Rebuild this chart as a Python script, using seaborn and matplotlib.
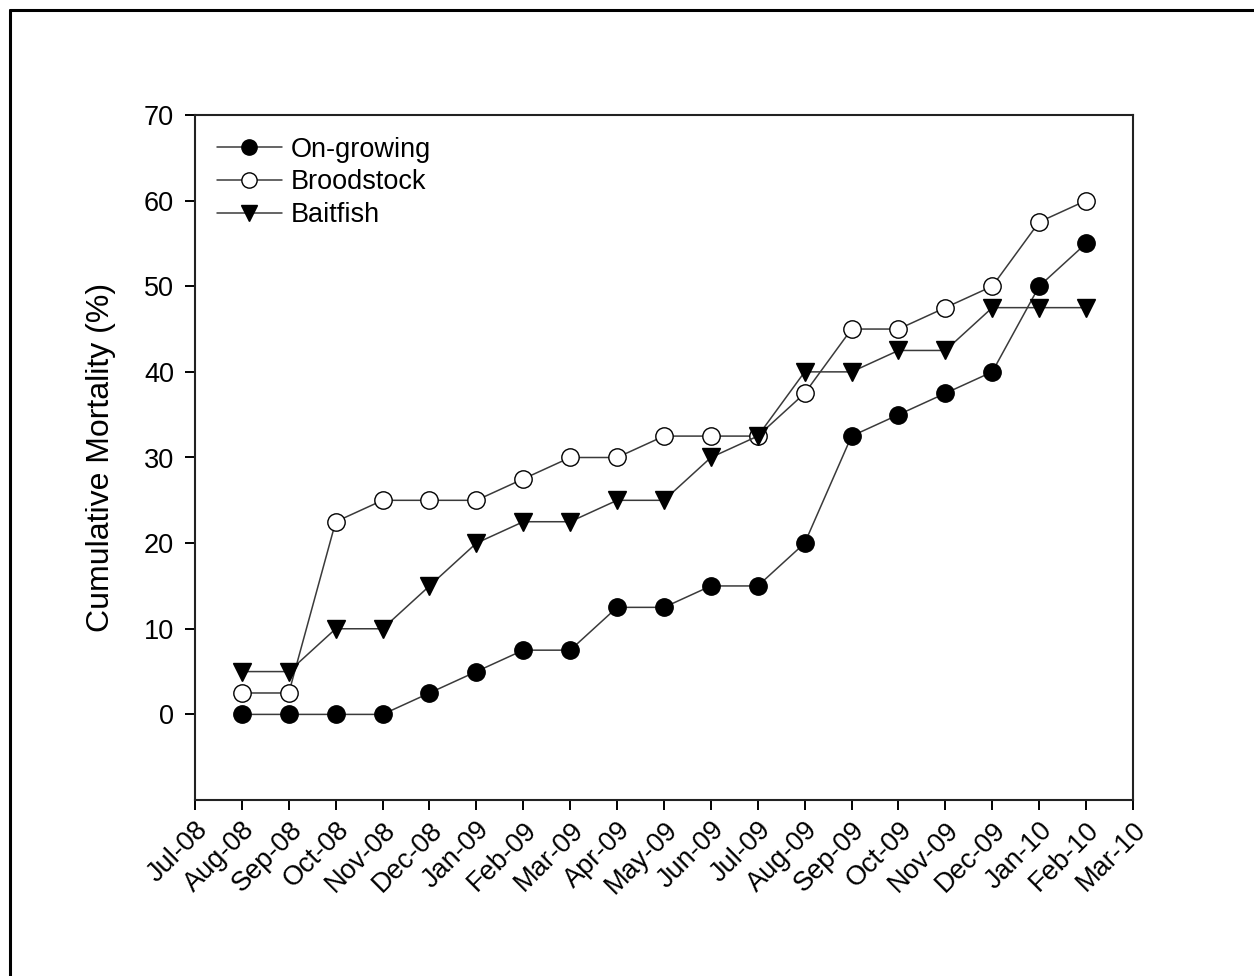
import matplotlib
matplotlib.use("Agg")
import matplotlib.pyplot as plt
import seaborn as sns
import pandas as pd
from matplotlib.lines import Line2D

months = ["Jul-08", "Aug-08", "Sep-08", "Oct-08", "Nov-08", "Dec-08", "Jan-09", "Feb-09",
          "Mar-09", "Apr-09", "May-09", "Jun-09", "Jul-09", "Aug-09", "Sep-09", "Oct-09",
          "Nov-09", "Dec-09", "Jan-10", "Feb-10", "Mar-10"]
data_months = months[1:20]

ongrowing = [0, 0, 0, 0, 2.5, 5, 7.5, 7.5, 12.5, 12.5, 15, 15, 20, 32.5, 35, 37.5, 40, 50, 55]
broodstock = [2.5, 2.5, 22.5, 25, 25, 25, 27.5, 30, 30, 32.5, 32.5, 32.5, 37.5, 45, 45, 47.5, 50, 57.5, 60]
baitfish = [5, 5, 10, 10, 15, 20, 22.5, 22.5, 25, 25, 30, 32.5, 40, 40, 42.5, 42.5, 47.5, 47.5, 47.5]

sns.set_theme(style="ticks")
plt.rcParams['font.family'] = ['Liberation Sans', 'DejaVu Sans']
plt.rcParams['text.color'] = 'black'
plt.rcParams['axes.labelcolor'] = 'black'

fig = plt.figure(figsize=(12.54, 9.76), dpi=100)
ax = fig.add_axes([0.1555, 0.1803, 0.9035 - 0.1555, 0.8822 - 0.1803])

xpos = [months.index(m) for m in data_months]
series = [
    ("On-growing", ongrowing, "o", "black"),
    ("Broodstock", broodstock, "o", "white"),
    ("Baitfish", baitfish, "v", "black"),
]
line_col = "#3a3a3a"
handles = []
for name, vals, mk, fc in series:
    df = pd.DataFrame({"x": xpos, "y": vals})
    ms = 12.5 if mk == "o" else 13
    sns.lineplot(data=df, x="x", y="y", ax=ax, sort=False, color=line_col, linewidth=1.1,
                 marker=mk, markersize=ms, markerfacecolor=fc, markeredgecolor="black",
                 markeredgewidth=1.0, legend=False)
    handles.append(Line2D([0], [0], color=line_col, linewidth=1.1, marker=mk, markersize=11,
                          markerfacecolor=fc, markeredgecolor="black", markeredgewidth=1.0, label=name))

ax.set_xlim(0, 20)
ax.set_ylim(-10, 70)
ax.set_xticks(range(len(months)))
ax.set_xticklabels(months, rotation=45, ha="right", rotation_mode="anchor")
ax.set_yticks(range(0, 71, 10))
ax.tick_params(axis="both", direction="out", length=7, width=1.4, labelsize=19.5, colors="black", pad=8)
ax.tick_params(axis="x", pad=5)
for s in ax.spines.values():
    s.set_linewidth(1.5)
    s.set_color("#222222")
    s.set_visible(True)
ax.set_xlabel("")
ax.set_ylabel("Cumulative Mortality (%)", fontsize=23, labelpad=20, color="black")

leg = ax.legend(handles=handles, loc="upper left", frameon=False, fontsize=19.5, handlelength=2.4,
                handletextpad=0.35, labelspacing=0.25, borderaxespad=0.4, bbox_to_anchor=(0.0, 1.0))
for t in leg.get_texts():
    t.set_color("black")

# outer frame (left and top edges visible)
fig.add_artist(Line2D([9.5 / 1254, 9.5 / 1254], [0, 1 - 9.5 / 976], color="black", linewidth=2.2,
                      transform=fig.transFigure))
fig.add_artist(Line2D([9.5 / 1254, 1], [1 - 9.5 / 976, 1 - 9.5 / 976], color="black", linewidth=2.2,
                      transform=fig.transFigure))

fig.savefig("out.png", dpi=100, facecolor="white")
